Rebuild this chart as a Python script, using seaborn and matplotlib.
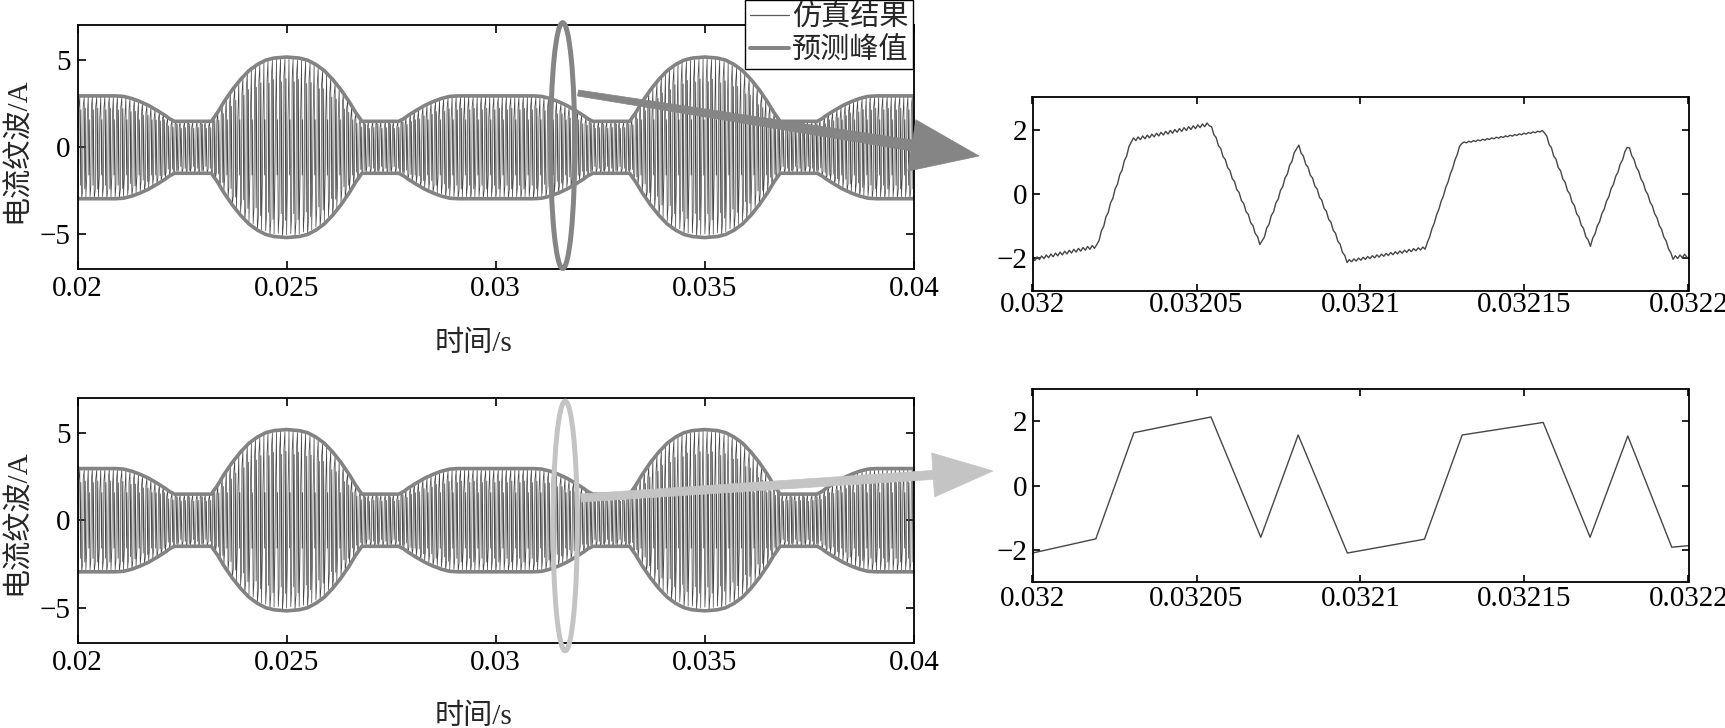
import numpy as np
import pandas as pd
import matplotlib
matplotlib.use("Agg")
import matplotlib.pyplot as plt
import seaborn as sns
from matplotlib.patches import Ellipse, Polygon
from matplotlib.lines import Line2D

# ---------------- data ----------------
# predicted peak envelope over one 10 ms cycle (repeats every 10 ms)
env_t = [0.0200, 0.0209, 0.0211, 0.0213, 0.0215, 0.0217, 0.0219, 0.0221, 0.0222, 0.02232,
         0.0232, 0.02335, 0.0235, 0.0237, 0.0239, 0.0241, 0.0243, 0.0245, 0.0247, 0.0250,
         0.0253, 0.0255, 0.0257, 0.0259, 0.0261, 0.0263, 0.0265, 0.02665, 0.0268,
         0.02768, 0.0278, 0.0279, 0.0281, 0.0283, 0.0285, 0.0287, 0.0289, 0.0291, 0.0300]
env_v = [2.95, 2.95, 2.92, 2.80, 2.62, 2.40, 2.12, 1.82, 1.64, 1.49,
         1.49, 2.00, 2.60, 3.30, 3.90, 4.40, 4.75, 5.00, 5.12, 5.18,
         5.12, 5.00, 4.75, 4.40, 3.90, 3.30, 2.60, 2.00, 1.49,
         1.49, 1.64, 1.82, 2.12, 2.40, 2.62, 2.80, 2.92, 2.95, 2.95]
env_cycle = 0.01

# switching-period ripple shapes (relative phase within a 100 us period),
# taken from the two periods visible in the zoomed window
t_switch = 1e-4
pat_phase = [[0.00, 0.20, 0.31, 0.55, 0.70, 0.81],
             [0.00, 0.24, 0.35, 0.60, 0.74, 0.86],
             [0.00, 0.22, 0.33, 0.57, 0.72, 0.83]]
pat_rel = [[-0.96, -0.76, 0.76, 0.99, -0.74, 0.73],
           [-1.00, -0.83, 0.79, 0.98, -0.81, 0.76],
           [-0.97, -1.65, 1.65, 1.00, -1.60, 1.58]]
pat_abs_inner = [False, False, True]   # third shape: inner corners at absolute level

# zoomed window 0.032 - 0.0322 s
sim_zoom_t = [0.0320000, 0.0320196, 0.0320302, 0.0320541, 0.0320696, 0.0320809, 0.0320958,
              0.0321199, 0.0321306, 0.0321560, 0.0321700, 0.0321815, 0.0321951, 0.0322000]
sim_zoom_v = [-2.03, -1.62, 1.68, 2.17, -1.60, 1.55, -2.09,
              -1.67, 1.58, 1.96, -1.62, 1.53, -1.98, -1.90]
sim_zig_amp = [0.05, 0.04, 0.05, 0.04, 0.04, 0.04, 0.04, 0.02, 0.02, 0.04, 0.03, 0.03, 0.05]
zig_step = 0.7e-6

pred_zoom_t = [0.0320000, 0.0320193, 0.0320309, 0.0320544, 0.0320696, 0.0320810, 0.0320960,
               0.0321195, 0.0321310, 0.0321557, 0.0321700, 0.0321815, 0.0321949, 0.0322000]
pred_zoom_v = [-2.09, -1.65, 1.65, 2.14, -1.60, 1.58, -2.09,
               -1.66, 1.58, 1.97, -1.60, 1.55, -1.91, -1.86]

xticks_main = [0.02, 0.025, 0.03, 0.035, 0.04]
xticklabels_main = ["0.02", "0.025", "0.03", "0.035", "0.04"]
yticks_main = [-5, 0, 5]
xticks_zoom = [0.032, 0.03205, 0.0321, 0.03215, 0.0322]
xticklabels_zoom = ["0.032", "0.03205", "0.0321", "0.03215", "0.0322"]
yticks_zoom = [-2, 0, 2]

legend_labels = ["仿真结果", "预测峰值"]
ylabel = "电流纹波/A"
xlabel = "时间/s"

# ---------------- build series ----------------
env_t_full = np.array(env_t + [t + env_cycle for t in env_t[1:]])
env_v_full = np.array(env_v + env_v[1:])

ts, vs = [], []
n_sw = int(round((0.04 - 0.02) / t_switch))
for k in range(n_sw):
    t0 = 0.02 + k * t_switch
    j = k % 3
    for idx, (p, r) in enumerate(zip(pat_phase[j], pat_rel[j])):
        t = t0 + p * t_switch
        e = np.interp(t, env_t_full, env_v_full)
        if pat_abs_inner[j] and idx in (1, 2, 4, 5):
            v = np.sign(r) * min(abs(r), 0.9 * e)
        else:
            v = r * e
        ts.append(t)
        vs.append(v)
ts.append(0.04)
vs.append(-np.interp(0.04, env_t_full, env_v_full))
sim_df = pd.DataFrame({"t": ts, "i": vs})
env_df = pd.DataFrame({"t": env_t_full, "up": env_v_full, "lo": -env_v_full})

tf = np.arange(sim_zoom_t[0], sim_zoom_t[-1] + 1e-12, zig_step)
base = np.interp(tf, sim_zoom_t, sim_zoom_v)
seg = np.clip(np.searchsorted(sim_zoom_t, tf, side="right") - 1, 0, len(sim_zig_amp) - 1)
amp = np.array(sim_zig_amp)[seg]
zz = base + amp * np.where(np.arange(len(tf)) % 2 == 0, 1.0, -1.0)
zoom_sim_df = pd.DataFrame({"t": tf, "i": zz})
zoom_pred_df = pd.DataFrame({"t": pred_zoom_t, "i": pred_zoom_v})

# ---------------- style ----------------
sns.set_theme(style="ticks")
plt.rcParams["font.family"] = ["Liberation Serif", "Noto Sans CJK SC"]
plt.rcParams["axes.unicode_minus"] = True
plt.rcParams["axes.linewidth"] = 1.3
plt.rcParams["axes.edgecolor"] = "black"

W, H = 1725, 728
fig = plt.figure(figsize=(W / 100, H / 100), dpi=100)
fig.patch.set_facecolor("white")

def px_rect(l, t, r, b):
    return [l / W, (H - b) / H, (r - l) / W, (b - t) / H]

ax1 = fig.add_axes(px_rect(77.5, 25.3, 914, 269.3))
ax2 = fig.add_axes(px_rect(77.5, 397.7, 914, 642.7))
ax3 = fig.add_axes(px_rect(1032.5, 97.3, 1688.5, 290.7))
ax4 = fig.add_axes(px_rect(1032.5, 389.3, 1688.5, 582.3))

SIM_C = "#464646"
ENV_C = "#838383"
FS = 21

for ax in (ax1, ax2):
    sns.lineplot(data=sim_df, x="t", y="i", ax=ax, estimator=None, sort=False,
                 color=SIM_C, lw=0.5)
    sns.lineplot(data=env_df, x="t", y="up", ax=ax, estimator=None, sort=False,
                 color=ENV_C, lw=2.6)
    sns.lineplot(data=env_df, x="t", y="lo", ax=ax, estimator=None, sort=False,
                 color=ENV_C, lw=2.6)
    ax.set_xlim(0.02, 0.04)
    ax.set_ylim(-7, 7)
    ax.set_xticks(xticks_main)
    ax.set_xticklabels(xticklabels_main)
    ax.set_yticks(yticks_main)
    ax.tick_params(direction="in", length=6, width=1.2, top=True, right=True,
                   labelsize=FS, colors="black")
    ax.tick_params(axis="x", pad=5)
    ax.tick_params(axis="y", pad=5)
    ax.set_xlabel(xlabel, fontsize=FS)
    ax.set_ylabel(ylabel, fontsize=FS)
    ax.xaxis.set_label_coords(0.473, -0.25)
    ax.xaxis.label.set_va("top")
    ax.yaxis.set_label_coords(-0.056, 0.49)

sns.lineplot(data=zoom_sim_df, x="t", y="i", ax=ax3, estimator=None, sort=False,
             color=SIM_C, lw=1.0)
sns.lineplot(data=zoom_pred_df, x="t", y="i", ax=ax4, estimator=None, sort=False,
             color=SIM_C, lw=1.0)
for ax, pad in ((ax3, 1.0), (ax4, 2.5)):
    ax.set_xlim(0.032, 0.0322)
    ax.set_ylim(-3, 3)
    ax.set_xticks(xticks_zoom)
    ax.set_xticklabels(xticklabels_zoom)
    ax.set_yticks(yticks_zoom)
    ax.tick_params(direction="in", length=5, width=1.2, top=True, right=True,
                   labelsize=FS, colors="black")
    ax.tick_params(axis="x", pad=pad)
    ax.tick_params(axis="y", pad=4)
    ax.set_xlabel("")
    ax.set_ylabel("")

for ax in (ax1, ax2, ax3, ax4):
    for s in ax.spines.values():
        s.set_visible(True)
        s.set_linewidth(1.3)
        s.set_color("black")

# ellipses marking the zoom window
ax1.add_patch(Ellipse((0.03160, 0.1), 0.00058, 14.1, fill=False, edgecolor="#858585",
                      lw=3.6, clip_on=False, zorder=6))
ax2.add_patch(Ellipse((0.03166, -0.33), 0.00058, 14.26, fill=False, edgecolor="#c4c4c4",
                      lw=3.6, clip_on=False, zorder=6))

# arrows (pixel geometry -> figure fraction)
def arrow_poly(start, tip, w0, w1, head_w, head_len, color):
    s = np.array(start, float)
    tp = np.array(tip, float)
    d = tp - s
    u = d / np.hypot(*d)
    n = np.array([-u[1], u[0]])
    b = tp - head_len * u
    pts = [s + w0 / 2 * n, b + w1 / 2 * n, b + head_w / 2 * n, tp,
           b - head_w / 2 * n, b - w1 / 2 * n, s - w0 / 2 * n]
    pts = [(p[0] / W, (H - p[1]) / H) for p in pts]
    fig.add_artist(Polygon(pts, closed=True, facecolor=color, edgecolor=color, lw=0.5,
                           transform=fig.transFigure, zorder=7))

arrow_poly((578, 93), (979, 156), 6, 11, 52, 68, "#858585")
arrow_poly((581, 498), (993, 471), 8, 9, 44, 60, "#c4c4c4")

# legend
handles = [Line2D([], [], color="#5a5a5a", lw=0.9),
           Line2D([], [], color=ENV_C, lw=2.8)]
leg = fig.legend(handles, legend_labels, loc="upper right",
                 bbox_to_anchor=(913 / W, 1.0), bbox_transform=fig.transFigure,
                 frameon=True, fancybox=False, edgecolor="black", framealpha=1,
                 borderpad=0.15, handlelength=1.35, handletextpad=0.1,
                 labelspacing=0.2, borderaxespad=0, fontsize=FS)
leg.get_frame().set_linewidth(1.0)
leg.set_zorder(10)

fig.savefig("out.png", dpi=100, facecolor="white")
